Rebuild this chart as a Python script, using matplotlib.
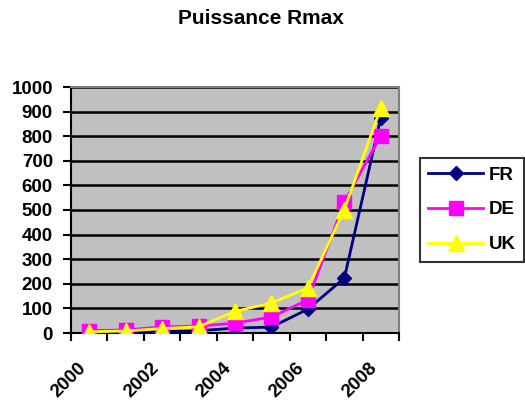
import matplotlib
matplotlib.use("Agg")
import matplotlib.pyplot as plt
import matplotlib.transforms as mtransforms
import numpy as np

plt.rcParams['font.family'] = ['Liberation Sans', 'DejaVu Sans']
plt.rcParams['font.weight'] = 'bold'

years = [2000, 2001, 2002, 2003, 2004, 2005, 2006, 2007, 2008]
fr = [2, 3, 6, 9, 20, 24, 97, 223, 875]
de = [10, 12, 25, 28, 40, 65, 135, 532, 802]
uk = [5, 8, 18, 25, 88, 122, 183, 502, 915]

fig = plt.figure(figsize=(5.25, 4.03), dpi=100)
ax = fig.add_axes([71 / 525, 1 - 333 / 403, 328 / 525, 246 / 403])
ax.set_facecolor('#C0C0C0')

x = np.arange(len(years))
ax.plot(x, fr, color='#000080', marker='D', markersize=7, lw=2, label='FR', zorder=3)
ax.plot(x, de, color='#FF00FF', marker='s', markersize=10, lw=2, label='DE', zorder=4)
ax.plot(x, uk, color='#FFFF00', marker='^', markersize=11, lw=2, label='UK', zorder=5)

ax.set_xlim(-0.5, len(years) - 0.5)
ax.set_ylim(0, 1000)
ax.set_yticks(range(0, 1001, 100))
ax.yaxis.grid(True, color='black', lw=1.8)
ax.set_axisbelow(True)

ax.set_xticks(np.arange(-0.5, len(years), 1))
ax.set_xticklabels([])
ax.set_xticks(x[::2], minor=True)
ax.set_xticklabels([str(y) for y in years[::2]], minor=True, rotation=45,
                   ha='right', va='top', fontsize=13.5, fontweight='bold')
shift = mtransforms.ScaledTranslation(-5 / 100, 0, fig.dpi_scale_trans)
for lbl in ax.get_xticklabels(minor=True):
    lbl.set_transform(lbl.get_transform() + shift)
ax.tick_params(axis='x', which='minor', length=0, pad=19)
ax.tick_params(axis='x', which='major', length=6, width=1.5, direction='out')
ax.tick_params(axis='y', length=6, width=1.5, labelsize=13.5, pad=7)
plt.setp(ax.get_yticklabels(), fontweight='bold')

for s in ['left', 'bottom']:
    ax.spines[s].set_color('black')
    ax.spines[s].set_linewidth(1.5)
for s in ['top', 'right']:
    ax.spines[s].set_color('#808080')
    ax.spines[s].set_linewidth(1.5)

fig.text(261 / 525, 1 - 19 / 403, 'Puissance Rmax', ha='center', va='center',
         fontsize=15, fontweight='bold')

leg = fig.legend(loc='upper left', bbox_to_anchor=(420 / 525, 1 - 158 / 403),
                 prop={'size': 13.5, 'weight': 'bold'}, frameon=True, fancybox=False,
                 edgecolor='black', handlelength=2.9, handletextpad=0.32,
                 borderpad=0.45, borderaxespad=0, labelspacing=0.95)
leg.get_frame().set_linewidth(1.5)

fig.savefig('out.png', dpi=100)
